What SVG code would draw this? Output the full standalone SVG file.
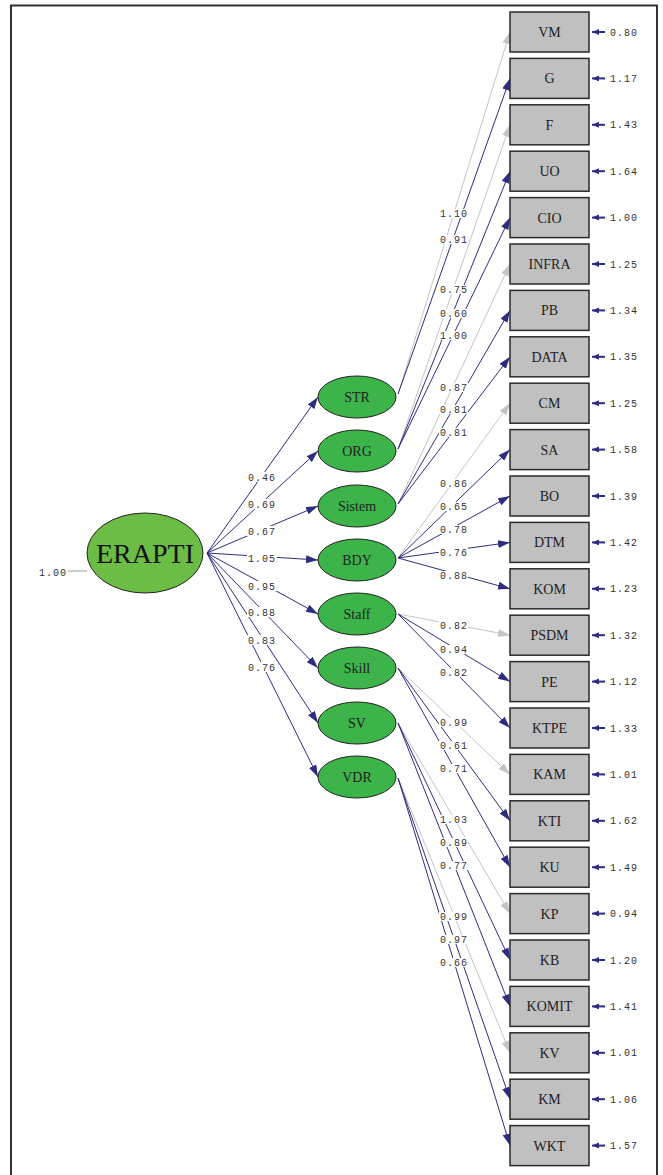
<svg xmlns="http://www.w3.org/2000/svg" width="663" height="1175" viewBox="0 0 663 1175">
<defs>
<style>
.ind{fill:#c0c0c0;stroke:#2a2a2a;stroke-width:1.5}
.lat{fill:#3cb44a;stroke:#222;stroke-width:1}
.root{fill:#6cbd45;stroke:#222;stroke-width:1}
.nt{font-family:"Liberation Serif","Times New Roman",serif;font-size:14px;fill:#222;text-anchor:middle}
.num{font-family:"Liberation Mono","Courier New",monospace;font-size:10px;letter-spacing:1px;fill:#333}
.lbl{font-family:"Liberation Mono","Courier New",monospace;font-size:10px;letter-spacing:1px;fill:#333;text-anchor:middle}
.nv{stroke:#2e2e80;stroke-width:1;fill:none;marker-end:url(#an)}
.gr{stroke:#c4c4c4;stroke-width:1;fill:none;marker-end:url(#ag)}
.err{stroke:#2e2e80;stroke-width:2;fill:none;marker-end:url(#ae)}
.bg{fill:#fff}
</style>
<marker id="an" markerUnits="userSpaceOnUse" markerWidth="13" markerHeight="9" refX="12" refY="4" orient="auto"><path d="M0,0 L12,4 L0,8 z" fill="#2e2e80"/></marker>
<marker id="ag" markerUnits="userSpaceOnUse" markerWidth="13" markerHeight="9" refX="12" refY="4" orient="auto"><path d="M0,0 L12,4 L0,8 z" fill="#c4c4c4"/></marker>
<marker id="ae" markerUnits="userSpaceOnUse" markerWidth="8" markerHeight="7" refX="7" refY="3" orient="auto"><path d="M0,0 L7,3 L0,6 z" fill="#2e2e80"/></marker>
</defs>
<rect x="0" y="0" width="663" height="1175" fill="#fff"/>
<path d="M11,1180 L11,5.5 L657,5.5 L657,1180" fill="none" stroke="#333" stroke-width="2"/>

<g id="connectors">
<line x1="68" y1="571" x2="87" y2="571" stroke="#999" stroke-width="1"/>
<line class="nv" x1="207" y1="553" x2="318" y2="397"/>
<line class="nv" x1="207" y1="553" x2="318" y2="451"/>
<line class="nv" x1="207" y1="553" x2="318" y2="506"/>
<line class="nv" x1="207" y1="553" x2="318" y2="560"/>
<line class="nv" x1="207" y1="553" x2="318" y2="614"/>
<line class="nv" x1="207" y1="553" x2="318" y2="668"/>
<line class="nv" x1="207" y1="553" x2="318" y2="723"/>
<line class="nv" x1="207" y1="553" x2="318" y2="777"/>

<line class="gr" x1="398" y1="394" x2="510" y2="32"/>
<line class="nv" x1="398" y1="394" x2="510" y2="78.4"/>
<line class="gr" x1="398" y1="449" x2="510" y2="124.8"/>
<line class="nv" x1="398" y1="449" x2="510" y2="171.2"/>
<line class="nv" x1="398" y1="449" x2="510" y2="217.6"/>
<line class="gr" x1="398" y1="504" x2="510" y2="264"/>
<line class="nv" x1="398" y1="504" x2="510" y2="310.4"/>
<line class="nv" x1="398" y1="504" x2="510" y2="356.8"/>
<line class="gr" x1="398" y1="558" x2="510" y2="403.2"/>
<line class="nv" x1="398" y1="558" x2="510" y2="449.6"/>
<line class="nv" x1="398" y1="558" x2="510" y2="496"/>
<line class="nv" x1="398" y1="558" x2="510" y2="542.4"/>
<line class="nv" x1="398" y1="558" x2="510" y2="588.8"/>
<line class="gr" x1="398" y1="614" x2="510" y2="635.2"/>
<line class="nv" x1="398" y1="614" x2="510" y2="681.6"/>
<line class="nv" x1="398" y1="614" x2="510" y2="728"/>
<line class="gr" x1="398" y1="668" x2="510" y2="774.4"/>
<line class="nv" x1="398" y1="668" x2="510" y2="820.8"/>
<line class="nv" x1="398" y1="668" x2="510" y2="867.2"/>
<line class="gr" x1="398" y1="723" x2="510" y2="913.6"/>
<line class="nv" x1="398" y1="723" x2="510" y2="960"/>
<line class="nv" x1="398" y1="723" x2="510" y2="1006.4"/>
<line class="gr" x1="398" y1="778" x2="510" y2="1052.8"/>
<line class="nv" x1="398" y1="778" x2="510" y2="1099.2"/>
<line class="nv" x1="398" y1="778" x2="510" y2="1145.6"/>

<g id="errors">
<line class="err" x1="605" y1="32" x2="592" y2="32"/>
<line class="err" x1="605" y1="78.4" x2="592" y2="78.4"/>
<line class="err" x1="605" y1="124.8" x2="592" y2="124.8"/>
<line class="err" x1="605" y1="171.2" x2="592" y2="171.2"/>
<line class="err" x1="605" y1="217.6" x2="592" y2="217.6"/>
<line class="err" x1="605" y1="264" x2="592" y2="264"/>
<line class="err" x1="605" y1="310.4" x2="592" y2="310.4"/>
<line class="err" x1="605" y1="356.8" x2="592" y2="356.8"/>
<line class="err" x1="605" y1="403.2" x2="592" y2="403.2"/>
<line class="err" x1="605" y1="449.6" x2="592" y2="449.6"/>
<line class="err" x1="605" y1="496" x2="592" y2="496"/>
<line class="err" x1="605" y1="542.4" x2="592" y2="542.4"/>
<line class="err" x1="605" y1="588.8" x2="592" y2="588.8"/>
<line class="err" x1="605" y1="635.2" x2="592" y2="635.2"/>
<line class="err" x1="605" y1="681.6" x2="592" y2="681.6"/>
<line class="err" x1="605" y1="728" x2="592" y2="728"/>
<line class="err" x1="605" y1="774.4" x2="592" y2="774.4"/>
<line class="err" x1="605" y1="820.8" x2="592" y2="820.8"/>
<line class="err" x1="605" y1="867.2" x2="592" y2="867.2"/>
<line class="err" x1="605" y1="913.6" x2="592" y2="913.6"/>
<line class="err" x1="605" y1="960" x2="592" y2="960"/>
<line class="err" x1="605" y1="1006.4" x2="592" y2="1006.4"/>
<line class="err" x1="605" y1="1052.8" x2="592" y2="1052.8"/>
<line class="err" x1="605" y1="1099.2" x2="592" y2="1099.2"/>
<line class="err" x1="605" y1="1145.6" x2="592" y2="1145.6"/>
</g>

<g id="path-labels">
<rect class="bg" x="247" y="472" width="30" height="10"/><text class="lbl" x="262" y="480.5">0.46</text>
<rect class="bg" x="247" y="499" width="30" height="10"/><text class="lbl" x="262" y="507.5">0.69</text>
<rect class="bg" x="247" y="526" width="30" height="10"/><text class="lbl" x="262" y="534.5">0.67</text>
<rect class="bg" x="247" y="553" width="30" height="10"/><text class="lbl" x="262" y="561.5">1.05</text>
<rect class="bg" x="247" y="581" width="30" height="10"/><text class="lbl" x="262" y="589.5">0.95</text>
<rect class="bg" x="247" y="607" width="30" height="10"/><text class="lbl" x="262" y="615.5">0.88</text>
<rect class="bg" x="247" y="635" width="30" height="10"/><text class="lbl" x="262" y="643.5">0.83</text>
<rect class="bg" x="247" y="662" width="30" height="10"/><text class="lbl" x="262" y="670.5">0.76</text>

<rect class="bg" x="439" y="209" width="29" height="9"/><text class="lbl" x="454" y="217">1.10</text>
<rect class="bg" x="439" y="235" width="29" height="9"/><text class="lbl" x="454" y="243">0.91</text>
<rect class="bg" x="439" y="285" width="29" height="9"/><text class="lbl" x="454" y="293">0.75</text>
<rect class="bg" x="439" y="309" width="29" height="9"/><text class="lbl" x="454" y="317">0.60</text>
<rect class="bg" x="439" y="331" width="29" height="9"/><text class="lbl" x="454" y="339">1.00</text>
<rect class="bg" x="439" y="383" width="29" height="9"/><text class="lbl" x="454" y="391">0.87</text>
<rect class="bg" x="439" y="405" width="29" height="9"/><text class="lbl" x="454" y="413">0.81</text>
<rect class="bg" x="439" y="428" width="29" height="9"/><text class="lbl" x="454" y="436">0.81</text>
<rect class="bg" x="439" y="479" width="29" height="9"/><text class="lbl" x="454" y="487">0.86</text>
<rect class="bg" x="439" y="502" width="29" height="9"/><text class="lbl" x="454" y="510">0.65</text>
<rect class="bg" x="439" y="525" width="29" height="9"/><text class="lbl" x="454" y="533">0.78</text>
<rect class="bg" x="439" y="548" width="29" height="9"/><text class="lbl" x="454" y="556">0.76</text>
<rect class="bg" x="439" y="571" width="29" height="9"/><text class="lbl" x="454" y="579">0.88</text>
<rect class="bg" x="439" y="621" width="29" height="9"/><text class="lbl" x="454" y="629">0.82</text>
<rect class="bg" x="439" y="645" width="29" height="9"/><text class="lbl" x="454" y="653">0.94</text>
<rect class="bg" x="439" y="668" width="29" height="9"/><text class="lbl" x="454" y="676">0.82</text>
<rect class="bg" x="439" y="718" width="29" height="9"/><text class="lbl" x="454" y="726">0.99</text>
<rect class="bg" x="439" y="741" width="29" height="9"/><text class="lbl" x="454" y="749">0.61</text>
<rect class="bg" x="439" y="764" width="29" height="9"/><text class="lbl" x="454" y="772">0.71</text>
<rect class="bg" x="439" y="815" width="29" height="9"/><text class="lbl" x="454" y="823">1.03</text>
<rect class="bg" x="439" y="838" width="29" height="9"/><text class="lbl" x="454" y="846">0.89</text>
<rect class="bg" x="439" y="861" width="29" height="9"/><text class="lbl" x="454" y="869">0.77</text>
<rect class="bg" x="439" y="912" width="29" height="9"/><text class="lbl" x="454" y="920">0.99</text>
<rect class="bg" x="439" y="935" width="29" height="9"/><text class="lbl" x="454" y="943">0.97</text>
<rect class="bg" x="439" y="958" width="29" height="9"/><text class="lbl" x="454" y="966">0.66</text>
</g>
</g>

<g id="ERAPTI"><ellipse class="root" cx="145" cy="553" rx="58" ry="40"/><text x="145" y="563" font-family="Liberation Serif, Times New Roman, serif" font-size="28" fill="#111" text-anchor="middle">ERAPTI</text><text class="num" x="39" y="576">1.00</text></g>

<g id="STR"><ellipse class="lat" cx="357" cy="397" rx="39" ry="21"/><text class="nt" x="357" y="402">STR</text></g>
<g id="ORG"><ellipse class="lat" cx="357" cy="451" rx="39" ry="21"/><text class="nt" x="357" y="456">ORG</text></g>
<g id="Sistem"><ellipse class="lat" cx="357" cy="506" rx="39" ry="21"/><text class="nt" x="357" y="511">Sistem</text></g>
<g id="BDY"><ellipse class="lat" cx="357" cy="560" rx="39" ry="21"/><text class="nt" x="357" y="565">BDY</text></g>
<g id="Staff"><ellipse class="lat" cx="357" cy="614" rx="39" ry="21"/><text class="nt" x="357" y="619">Staff</text></g>
<g id="Skill"><ellipse class="lat" cx="357" cy="668" rx="39" ry="21"/><text class="nt" x="357" y="673">Skill</text></g>
<g id="SV"><ellipse class="lat" cx="357" cy="723" rx="39" ry="21"/><text class="nt" x="357" y="728">SV</text></g>
<g id="VDR"><ellipse class="lat" cx="357" cy="777" rx="39" ry="21"/><text class="nt" x="357" y="782">VDR</text></g>

<g id="VM"><rect class="ind" x="510" y="12" width="79" height="40"/><text class="nt" x="549.5" y="37">VM</text><text class="num" x="610" y="35.5">0.80</text></g>
<g id="G"><rect class="ind" x="510" y="58.4" width="79" height="40"/><text class="nt" x="549.5" y="83.4">G</text><text class="num" x="610" y="81.9">1.17</text></g>
<g id="F"><rect class="ind" x="510" y="104.8" width="79" height="40"/><text class="nt" x="549.5" y="129.8">F</text><text class="num" x="610" y="128.3">1.43</text></g>
<g id="UO"><rect class="ind" x="510" y="151.2" width="79" height="40"/><text class="nt" x="549.5" y="176.2">UO</text><text class="num" x="610" y="174.7">1.64</text></g>
<g id="CIO"><rect class="ind" x="510" y="197.6" width="79" height="40"/><text class="nt" x="549.5" y="222.6">CIO</text><text class="num" x="610" y="221.1">1.00</text></g>
<g id="INFRA"><rect class="ind" x="510" y="244" width="79" height="40"/><text class="nt" x="549.5" y="269">INFRA</text><text class="num" x="610" y="267.5">1.25</text></g>
<g id="PB"><rect class="ind" x="510" y="290.4" width="79" height="40"/><text class="nt" x="549.5" y="315.4">PB</text><text class="num" x="610" y="313.9">1.34</text></g>
<g id="DATA"><rect class="ind" x="510" y="336.8" width="79" height="40"/><text class="nt" x="549.5" y="361.8">DATA</text><text class="num" x="610" y="360.3">1.35</text></g>
<g id="CM"><rect class="ind" x="510" y="383.2" width="79" height="40"/><text class="nt" x="549.5" y="408.2">CM</text><text class="num" x="610" y="406.7">1.25</text></g>
<g id="SA"><rect class="ind" x="510" y="429.6" width="79" height="40"/><text class="nt" x="549.5" y="454.6">SA</text><text class="num" x="610" y="453.1">1.58</text></g>
<g id="BO"><rect class="ind" x="510" y="476" width="79" height="40"/><text class="nt" x="549.5" y="501">BO</text><text class="num" x="610" y="499.5">1.39</text></g>
<g id="DTM"><rect class="ind" x="510" y="522.4" width="79" height="40"/><text class="nt" x="549.5" y="547.4">DTM</text><text class="num" x="610" y="545.9">1.42</text></g>
<g id="KOM"><rect class="ind" x="510" y="568.8" width="79" height="40"/><text class="nt" x="549.5" y="593.8">KOM</text><text class="num" x="610" y="592.3">1.23</text></g>
<g id="PSDM"><rect class="ind" x="510" y="615.2" width="79" height="40"/><text class="nt" x="549.5" y="640.2">PSDM</text><text class="num" x="610" y="638.7">1.32</text></g>
<g id="PE"><rect class="ind" x="510" y="661.6" width="79" height="40"/><text class="nt" x="549.5" y="686.6">PE</text><text class="num" x="610" y="685.1">1.12</text></g>
<g id="KTPE"><rect class="ind" x="510" y="708" width="79" height="40"/><text class="nt" x="549.5" y="733">KTPE</text><text class="num" x="610" y="731.5">1.33</text></g>
<g id="KAM"><rect class="ind" x="510" y="754.4" width="79" height="40"/><text class="nt" x="549.5" y="779.4">KAM</text><text class="num" x="610" y="777.9">1.01</text></g>
<g id="KTI"><rect class="ind" x="510" y="800.8" width="79" height="40"/><text class="nt" x="549.5" y="825.8">KTI</text><text class="num" x="610" y="824.3">1.62</text></g>
<g id="KU"><rect class="ind" x="510" y="847.2" width="79" height="40"/><text class="nt" x="549.5" y="872.2">KU</text><text class="num" x="610" y="870.7">1.49</text></g>
<g id="KP"><rect class="ind" x="510" y="893.6" width="79" height="40"/><text class="nt" x="549.5" y="918.6">KP</text><text class="num" x="610" y="917.1">0.94</text></g>
<g id="KB"><rect class="ind" x="510" y="940" width="79" height="40"/><text class="nt" x="549.5" y="965">KB</text><text class="num" x="610" y="963.5">1.20</text></g>
<g id="KOMIT"><rect class="ind" x="510" y="986.4" width="79" height="40"/><text class="nt" x="549.5" y="1011.4">KOMIT</text><text class="num" x="610" y="1009.9">1.41</text></g>
<g id="KV"><rect class="ind" x="510" y="1032.8" width="79" height="40"/><text class="nt" x="549.5" y="1057.8">KV</text><text class="num" x="610" y="1056.3">1.01</text></g>
<g id="KM"><rect class="ind" x="510" y="1079.2" width="79" height="40"/><text class="nt" x="549.5" y="1104.2">KM</text><text class="num" x="610" y="1102.7">1.06</text></g>
<g id="WKT"><rect class="ind" x="510" y="1125.6" width="79" height="40"/><text class="nt" x="549.5" y="1150.6">WKT</text><text class="num" x="610" y="1149.1">1.57</text></g>
</svg>
